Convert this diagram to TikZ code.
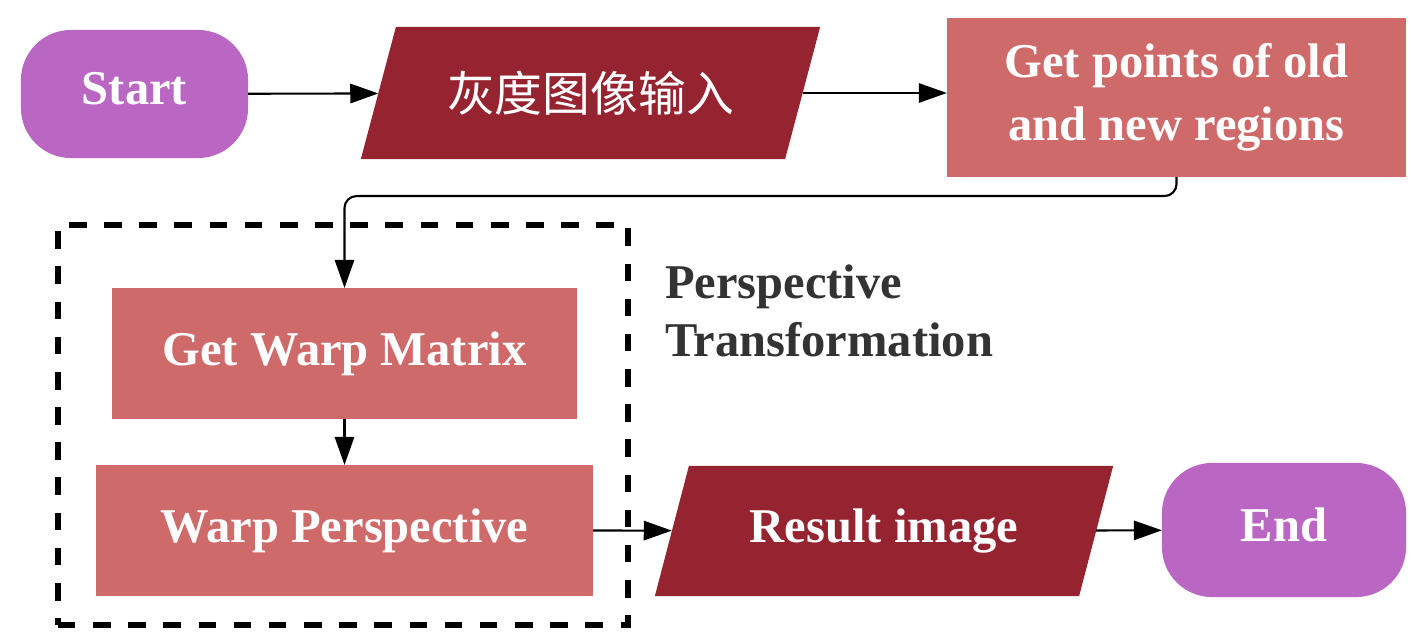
\documentclass[tikz,border=0pt]{standalone}
\usepackage{fontspec}
\setmainfont{Liberation Serif}
\newfontfamily\cjk{Noto Sans CJK SC}
\usetikzlibrary{arrows.meta,backgrounds}
\definecolor{purp}{RGB}{185,103,194}
\definecolor{dred}{RGB}{149,35,48}
\definecolor{salm}{RGB}{207,106,106}
\definecolor{lbl}{RGB}{51,51,51}
\tikzset{
  every node/.style={inner sep=0pt, outer sep=0pt},
  txt/.style={text=white, font=\fontsize{13.8}{18}\selectfont\bfseries, align=center},
  term/.style={txt, fill=purp, rounded corners=0.5cm, text depth=3pt},
  io/.style={txt},
  proc/.style={txt, fill=salm},
  conn/.style={draw=black, line width=0.6pt, -{Triangle[length=8pt,width=5.5pt]}},
  grp/.style={draw=black, line width=1.6pt, dash pattern=on 5pt off 5pt}
}
\newcommand{\slantfill}[2]{%
  \begin{scope}[on background layer]
  \fill[dred] ([xshift=-#2]#1.south west) -- ([xshift=-#2]#1.south east)
     -- ([xshift=#2]#1.north east) -- ([xshift=#2]#1.north west) -- cycle;
  \end{scope}}
\begin{document}
\begin{tikzpicture}[x=0.01cm,y=-0.01cm]
\useasboundingbox (0,0) rectangle (1422,643);
\node[term, minimum width=2.27cm, minimum height=1.28cm] (start) at (134.5,94) {Start};
\node[io, minimum width=4.24cm, minimum height=1.32cm] (gray) at (590.5,93) {\cjk\mdseries\fontsize{13.6}{16}\selectfont 灰度图像输入};
\slantfill{gray}{0.175cm}
\node[proc, minimum width=4.59cm, minimum height=1.59cm] (pts) at (1176.5,97.5) {Get points of old\\and new regions};
\node[grp, minimum width=5.7cm, minimum height=4.0cm] (group) at (343,425) {};
\node[proc, minimum width=4.65cm, minimum height=1.31cm] (gwm) at (344.5,353.5) {Get Warp Matrix};
\node[proc, minimum width=4.97cm, minimum height=1.31cm] (wp) at (344.5,530.5) {Warp Perspective};
\node[io, minimum width=4.24cm, minimum height=1.30cm] (res) at (884,531) {Result image};
\slantfill{res}{0.17cm}
\node[term, minimum width=2.44cm, minimum height=1.34cm] (end) at (1284,530) {End};
\node[anchor=west, align=left, text=lbl, font=\fontsize{13.8}{16.5}\selectfont\bfseries] (lab) at (665,311) {Perspective\\Transformation};
\draw[conn] (start) -- (gray);
\draw[conn] (gray) -- (gray -| pts.west);
\draw[conn, rounded corners=0.12cm] (pts.south) -- ++(0,19) -| (gwm.north);
\draw[conn] (gwm) -- (wp);
\draw[conn] (wp.east) -- (res);
\draw[conn] (res) -- (end);
\end{tikzpicture}
\end{document}
